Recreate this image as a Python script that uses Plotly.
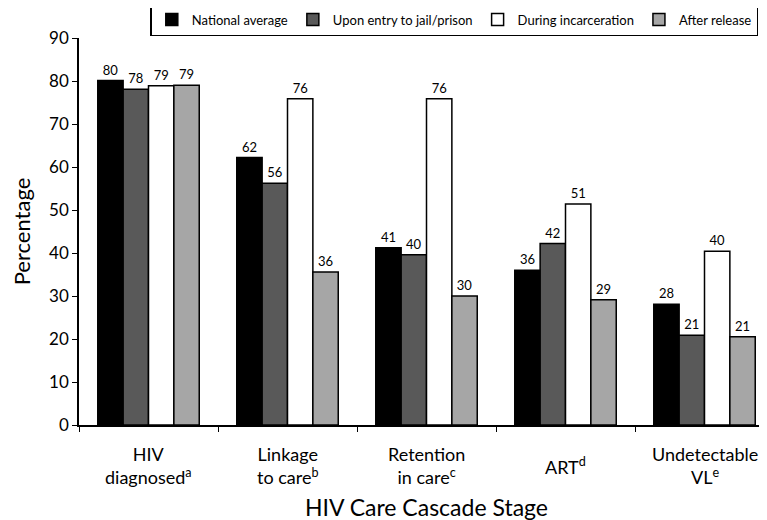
import plotly.graph_objects as go

categories = ["HIV diagnosed", "Linkage to care", "Retention in care", "ART", "Undetectable VL"]
category_labels = ["HIV<br>diagnosed<sup>a</sup>", "Linkage<br>to care<sup>b</sup>",
                   "Retention<br>in care<sup>c</sup>", "ART<sup>d</sup>",
                   "Undetectable<br>VL<sup>e</sup>"]
series_names = ["National average", "Upon entry to jail/prison",
                "During incarceration", "After release"]
national = [80.1, 62.2, 41.2, 36.0, 28.1]
entry = [78.1, 56.2, 39.6, 42.2, 20.9]
during = [78.9, 75.9, 75.9, 51.4, 40.4]
after = [79.0, 35.6, 30.0, 29.1, 20.5]
label_national = ["80", "62", "41", "36", "28"]
label_entry = ["78", "56", "40", "42", "21"]
label_during = ["79", "76", "76", "51", "40"]
label_after = ["79", "36", "30", "29", "21"]
colors = ["#000000", "#595959", "#ffffff", "#a6a6a6"]

FONT = "Lato"
fig = go.Figure()
for name, vals, labs, col in zip(series_names,
                                 [national, entry, during, after],
                                 [label_national, label_entry, label_during, label_after],
                                 colors):
    fig.add_trace(go.Bar(
        x=categories, y=vals, name=name, text=labs,
        textposition="outside", textfont=dict(size=13, color="black", family=FONT),
        marker=dict(color=col, line=dict(color="black", width=1.5)),
        cliponaxis=False,
    ))

for cat, lab in zip(categories, category_labels):
    fig.add_annotation(x=cat, xref="x", y=-0.105, yref="paper", yanchor="middle",
                       text=lab, showarrow=False, font=dict(size=18, family=FONT, color="black"))

fig.update_layout(
    width=767, height=520,
    margin=dict(l=71, r=1, t=30, b=103, autoexpand=False),
    barmode="group", bargap=0.27, bargroupgap=0,
    plot_bgcolor="white", paper_bgcolor="white",
    font=dict(family=FONT, color="black"),
    showlegend=True,
    legend=dict(orientation="h", x=0.54, xanchor="center", y=1.09, yanchor="top",
                bordercolor="black", borderwidth=1.5, font=dict(size=13, family=FONT),
                itemwidth=30, traceorder="normal"),
    xaxis=dict(showline=True, linecolor="black", linewidth=1.5, ticks="outside",
               tickson="boundaries", ticklen=5, tickcolor="black", showticklabels=False,
               automargin=False,
               title=dict(text="HIV Care Cascade Stage", font=dict(size=23, family=FONT), standoff=74)),
    yaxis=dict(range=[0, 90], dtick=10, showline=True, linecolor="black", linewidth=1.5,
               ticks="outside", ticklen=5, tickcolor="black", showgrid=False, zeroline=False,
               tickfont=dict(size=17, family=FONT), automargin=False,
               title=dict(text="Percentage", font=dict(size=22, family=FONT), standoff=22)),
)
fig.write_html("out.html")
